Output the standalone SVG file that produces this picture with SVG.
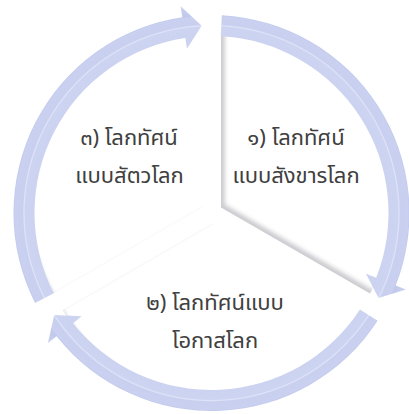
<svg xmlns="http://www.w3.org/2000/svg" xmlns:xlink="http://www.w3.org/1999/xlink" width="409" height="414" viewBox="0 0 409 414">
<style>
.seg{fill:#ffffff;}
.strong{filter:url(#inset);}
.soft{filter:url(#insetSoft);}
.arrow{fill:url(#ringGrad);}
.lbl{font-family:"Noto Sans Thai","Leelawadee UI",Tahoma,"Noto Sans","DejaVu Sans",sans-serif;font-size:22px;fill:#404040;text-anchor:middle;}
</style>
<defs>
<radialGradient id="ringGrad" gradientUnits="userSpaceOnUse" cx="211.5" cy="213" r="209">
<stop offset="0" stop-color="#ccd3f1"/>
<stop offset="0.85" stop-color="#ccd3f1"/>
<stop offset="0.892" stop-color="#cdd4f2"/>
<stop offset="0.897" stop-color="#e0e4f7"/>
<stop offset="0.903" stop-color="#c8cfef"/>
<stop offset="0.94" stop-color="#cad1f0"/>
<stop offset="0.947" stop-color="#c1c9ec"/>
<stop offset="1" stop-color="#cad1f0"/>
</radialGradient>
<filter id="inset" x="-10%" y="-10%" width="120%" height="120%">
<feFlood flood-color="#8e8e9c" flood-opacity="0.55"/>
<feComposite in2="SourceAlpha" operator="out"/>
<feOffset dx="4" dy="-3"/>
<feGaussianBlur stdDeviation="2"/>
<feComposite in2="SourceAlpha" operator="in" result="sh"/>
<feMerge><feMergeNode in="SourceGraphic"/><feMergeNode in="sh"/></feMerge>
</filter>
<filter id="insetSoft" x="-10%" y="-10%" width="120%" height="120%">
<feFlood flood-color="#9a9aa8" flood-opacity="0.25"/>
<feComposite in2="SourceAlpha" operator="out"/>
<feOffset dx="2" dy="-1.5"/>
<feGaussianBlur stdDeviation="1.2"/>
<feComposite in2="SourceAlpha" operator="in" result="sh"/>
<feMerge><feMergeNode in="SourceGraphic"/><feMergeNode in="sh"/></feMerge>
</filter>
<path id="arrowShape" d="M 221.86 15.27 A 198 198 0 0 1 395.72 285.57 L 405.96 289.60 L 378.56 298.12 L 365.95 273.84 L 376.18 277.87 A 177 177 0 0 0 220.76 36.24 Z"/>
</defs>
<rect width="409" height="414" fill="#ffffff"/>
<g id="node1">
<path class="seg strong" d="M 221.03 207.5 L 221.03 35.5 A 172 172 0 0 1 369.99 293.5 Z"/>
<text class="lbl" x="296" y="145">๑) โลกทัศน์</text>
<text class="lbl" x="296" y="183">แบบสังขารโลก</text>
</g>
<g id="node2">
<path class="seg soft" d="M 211.5 224 L 360.46 310 A 172 172 0 0 1 62.54 310 Z"/>
<text class="lbl" x="215" y="310">๒) โลกทัศน์แบบ</text>
<text class="lbl" x="215" y="348">โอกาสโลก</text>
</g>
<g id="node3">
<path class="seg soft" d="M 201.97 207.5 L 53.01 293.5 A 172 172 0 0 1 201.97 35.5 Z"/>
<text class="lbl" x="129" y="145">๓) โลกทัศน์</text>
<text class="lbl" x="129.5" y="183">แบบสัตวโลก</text>
</g>
<g id="connectors">
<use xlink:href="#arrowShape" class="arrow"/>
<use xlink:href="#arrowShape" class="arrow" transform="rotate(120 211.5 213)"/>
<use xlink:href="#arrowShape" class="arrow" transform="rotate(240 211.5 213)"/>
</g>
</svg>
